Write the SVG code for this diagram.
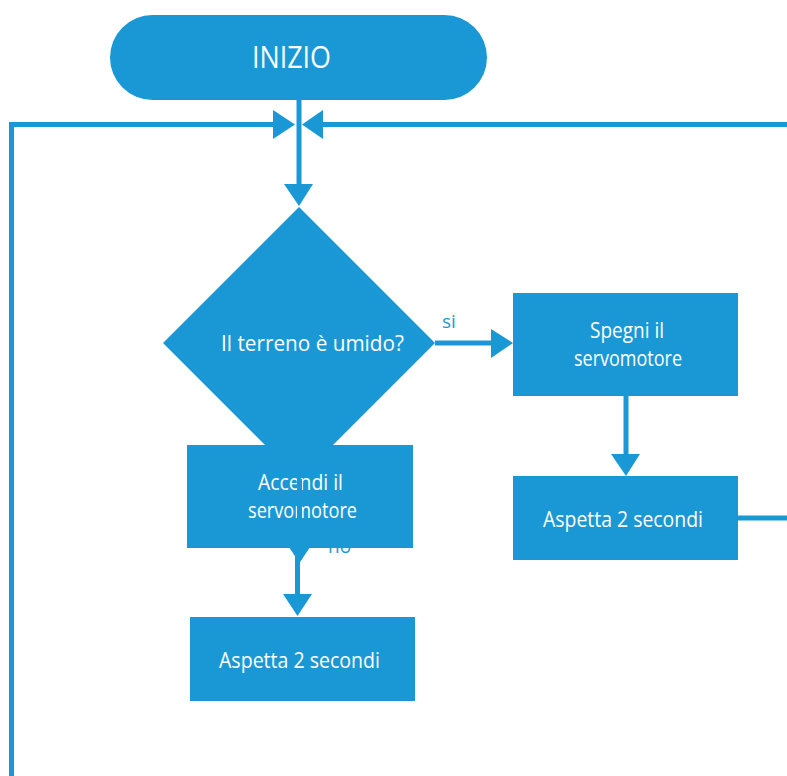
<svg xmlns="http://www.w3.org/2000/svg" width="787" height="776" viewBox="0 0 787 776">
<style>
.n{fill:#1A98D5;}
.t{fill:#fff;font-family:"Open Sans","Noto Sans",sans-serif;font-size:21px;}
.l{stroke:#1A98D5;stroke-width:5;fill:none;}
.a{fill:#1A98D5;}
.lbl{fill:#1A98D5;font-family:"Open Sans","Noto Sans",sans-serif;font-size:19px;}
</style>
<g id="inizio"><rect class="n" x="110" y="15" width="377" height="85" rx="42.5"/><text class="t" x="252" y="68" style="font-size:31px" textLength="79" lengthAdjust="spacingAndGlyphs">INIZIO</text></g>
<g id="decisione"><polygon class="n" points="299,207 435,343 299,479 163,343"/><text class="t" x="221" y="351" textLength="183" lengthAdjust="spacingAndGlyphs">Il terreno è umido?</text></g>
<g id="spegni"><rect class="n" x="513" y="293" width="225" height="103"/><text class="t" x="590" y="338" textLength="74" lengthAdjust="spacingAndGlyphs">Spegni il</text><text class="t" x="574" y="366" textLength="108" lengthAdjust="spacingAndGlyphs">servomotore</text></g>
<g id="aspetta-destra"><rect class="n" x="513" y="476" width="225" height="84"/><text class="t" x="543" y="527" textLength="160" lengthAdjust="spacingAndGlyphs">Aspetta 2 secondi</text></g>
<g id="lbl-no"><text class="lbl" x="328" y="553">no</text></g>
<g id="accendi"><rect class="n" x="187" y="445" width="226" height="103"/><text class="t" x="258" y="490" textLength="85" lengthAdjust="spacingAndGlyphs">Accendi il</text><text class="t" x="248" y="518" textLength="109" lengthAdjust="spacingAndGlyphs">servomotore</text></g>
<g id="aspetta-sinistra"><rect class="n" x="190" y="617" width="225" height="84"/><text class="t" x="219" y="668" textLength="161" lengthAdjust="spacingAndGlyphs">Aspetta 2 secondi</text></g>
<g id="connectors">
<path class="l" d="M299,100 V186"/>
<polygon class="a" points="284,184 313,184 299,206"/>
<path class="l" d="M11.5,776 V124.5 H275"/>
<polygon class="a" points="273,110 273,139 295,124.5"/>
<path class="l" d="M787,124.5 H321"/>
<polygon class="a" points="323,110 323,139 302,124.5"/>
<path class="l" d="M435,343 H493"/>
<polygon class="a" points="491,329 491,358 513,343"/>
<text class="lbl" x="442" y="328">si</text>
<path class="l" d="M626,396 V456"/>
<polygon class="a" points="611,454 640,454 626,476"/>
<path class="l" d="M738,518 H787"/>
<path class="l" d="M299.5,479 V545"/>
<polygon class="a" points="285,541 314,541 299.5,563"/>
<path class="l" d="M297.5,548 V596"/>
<polygon class="a" points="283,594 312,594 297.5,616"/>
</g>
</svg>
